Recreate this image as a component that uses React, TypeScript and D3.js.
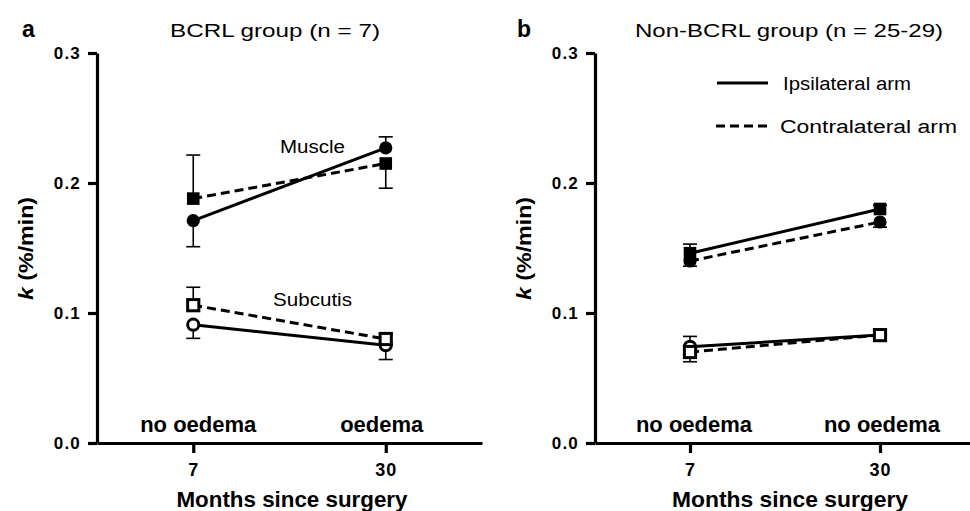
import { useEffect, useRef } from "react";
import * as d3 from "d3";

const months = ["7", "30"];
const yTicks = [0, 0.1, 0.2, 0.3];

// a: BCRL group
const bcrlMuscleIpsi = [0.171, 0.227];
const bcrlMuscleIpsiSem = [0.02, 0.0085];
const bcrlMuscleContra = [0.188, 0.215];
const bcrlMuscleContraSem = [0.0335, 0.019];
const bcrlSubcIpsi = [0.091, 0.0752];
const bcrlSubcIpsiSem = [0.0105, 0.011];
const bcrlSubcContra = [0.106, 0.08];
const bcrlSubcContraSem = [0.0138, 0.004];
const bcrlStatus = ["no oedema", "oedema"];

// b: non-BCRL group
const nonMuscleIpsi = [0.146, 0.18];
const nonMuscleIpsiSem = [0.007, 0.003];
const nonMuscleContra = [0.14, 0.17];
const nonMuscleContraSem = [0.004, 0.004];
const nonSubcIpsi = [0.074, 0.083];
const nonSubcIpsiSem = [0.008, 0.003];
const nonSubcContra = [0.07, 0.083];
const nonSubcContraSem = [0.0075, 0.003];
const nonStatus = ["no oedema", "no oedema"];

const FONT = "'Liberation Sans', Arial, Helvetica, sans-serif";

type Marker = "circle" | "square";
interface Series {
  values: number[];
  sem: number[];
  dashed: boolean;
  marker: Marker;
  filled: boolean;
  up: boolean[];
}

// higher mean of a pair gets the upward bar, the lower one the downward bar
function pair(ipsi: number[], ipsiSem: number[], ipsiMarker: Marker,
              contra: number[], contraSem: number[], contraMarker: Marker, filled: boolean): Series[] {
  const ipsiUp = ipsi.map((v, i) => v >= contra[i]);
  return [
    { values: ipsi, sem: ipsiSem, dashed: false, marker: ipsiMarker, filled, up: ipsiUp },
    { values: contra, sem: contraSem, dashed: true, marker: contraMarker, filled, up: ipsiUp.map((u) => !u) },
  ];
}

const panelA: Series[] = [
  ...pair(bcrlMuscleIpsi, bcrlMuscleIpsiSem, "circle", bcrlMuscleContra, bcrlMuscleContraSem, "square", true),
  ...pair(bcrlSubcIpsi, bcrlSubcIpsiSem, "circle", bcrlSubcContra, bcrlSubcContraSem, "square", false),
];
const panelB: Series[] = [
  ...pair(nonMuscleIpsi, nonMuscleIpsiSem, "square", nonMuscleContra, nonMuscleContraSem, "circle", true),
  ...pair(nonSubcIpsi, nonSubcIpsiSem, "circle", nonSubcContra, nonSubcContraSem, "square", false),
];

interface PanelProps {
  left: number;
  right: number;
  series: Series[];
  status: string[];
  letter: string;
  letterX: number;
  title: string;
  titleX: number;
  titleLen: number;
  xLabelX: number;
  xLabelLen: number;
  statusDx: number[];
}

function Panel({ left, right, series, status, letter, letterX, title, titleX, titleLen, xLabelX, xLabelLen, statusDx }: PanelProps) {
  const xAxisRef = useRef<SVGGElement>(null);
  const yAxisRef = useRef<SVGGElement>(null);

  const x = d3.scalePoint<string>().domain(months).range([left, right]).padding(0.5);
  const y = d3.scaleLinear().domain([0, 0.3]).range([443, 53]);
  const line = d3.line<number>().x((_, i) => x(months[i]) as number).y((d) => y(d));

  useEffect(() => {
    const gy = d3.select(yAxisRef.current!);
    gy.call(
      d3.axisLeft(y).tickValues(yTicks).tickFormat(d3.format(".1f")).tickSize(9).tickSizeOuter(0).tickPadding(7)
    );
    gy.attr("font-family", FONT).attr("font-size", 17).attr("font-weight", "bold");
    gy.selectAll("path, line").attr("stroke", "#000").attr("stroke-width", 3.2);
    gy.selectAll("text").attr("fill", "#000").attr("letter-spacing", 1.2);

    const gx = d3.select(xAxisRef.current!);
    gx.call(d3.axisBottom(x).tickSize(10).tickSizeOuter(0).tickPadding(10));
    gx.attr("font-family", FONT).attr("font-size", 18).attr("font-weight", "bold");
    gx.selectAll("path, line").attr("stroke", "#000").attr("stroke-width", 3.2);
    gx.selectAll("text").attr("fill", "#000").attr("letter-spacing", 1);
  }, [left, right]);

  return (
    <g>
      <text x={letterX} y={37} fontFamily={FONT} fontSize={23} fontWeight="bold">{letter}</text>
      <text x={titleX} y={37} fontFamily={FONT} fontSize={19} textAnchor="middle"
            textLength={titleLen} lengthAdjust="spacingAndGlyphs">{title}</text>

      <g ref={xAxisRef} transform="translate(0,443)" />
      <g ref={yAxisRef} transform={`translate(${left},0)`} />

      <text transform={`translate(${left - 64},248.5) rotate(-90)`} fontFamily={FONT} fontSize={21}
            fontWeight="bold" textAnchor="middle" textLength={103} lengthAdjust="spacingAndGlyphs">
        <tspan fontStyle="italic">k</tspan> (%/min)
      </text>
      <text x={xLabelX} y={507} fontFamily={FONT} fontSize={22} fontWeight="bold" textAnchor="middle"
            textLength={xLabelLen} lengthAdjust="spacingAndGlyphs">Months since surgery</text>

      {status.map((s, i) => (
        <text key={`st-${i}`} x={(x(months[i]) as number) + statusDx[i]} y={432} fontFamily={FONT}
              fontSize={22} fontWeight="bold" textAnchor="middle">{s}</text>
      ))}

      {series.map((s, si) => (
        <path key={`ln-${si}`} d={line(s.values) || ""} fill="none" stroke="#000" strokeWidth={3}
              strokeDasharray={s.dashed ? "9 5" : undefined} />
      ))}

      {series.map((s, si) =>
        s.values.map((v, i) => {
          const cx = x(months[i]) as number;
          const end = y(s.up[i] ? v + s.sem[i] : v - s.sem[i]);
          return (
            <g key={`eb-${si}-${i}`} stroke="#000" strokeWidth={1.6}>
              <line x1={cx} x2={cx} y1={y(v)} y2={end} />
              <line x1={cx - 7} x2={cx + 7} y1={end} y2={end} />
            </g>
          );
        })
      )}

      {series.map((s, si) =>
        s.values.map((v, i) => {
          const cx = x(months[i]) as number;
          const cy = y(v);
          if (s.marker === "circle") {
            return s.filled
              ? <circle key={`mk-${si}-${i}`} cx={cx} cy={cy} r={6.6} fill="#000" />
              : <circle key={`mk-${si}-${i}`} cx={cx} cy={cy} r={5.6} fill="#fff" stroke="#000" strokeWidth={3} />;
          }
          return s.filled
            ? <rect key={`mk-${si}-${i}`} x={cx - 6.3} y={cy - 6.3} width={12.6} height={12.6} fill="#000" />
            : <rect key={`mk-${si}-${i}`} x={cx - 5.6} y={cy - 5.6} width={11.2} height={11.2} fill="#fff"
                    stroke="#000" strokeWidth={3} />;
        })
      )}
    </g>
  );
}

export default function App() {
  return (
    <svg width={970} height={511} style={{ position: "absolute", left: 0, top: 0, background: "#fff" }}>
      <Panel left={97} right={482} series={panelA} status={bcrlStatus} letter="a" letterX={22}
             title="BCRL group (n = 7)" titleX={275} titleLen={210} xLabelX={292} xLabelLen={231}
             statusDx={[5, -4]} />
      <Panel left={595} right={975} series={panelB} status={nonStatus} letter="b" letterX={517}
             title="Non-BCRL group (n = 25-29)" titleX={789} titleLen={308} xLabelX={790} xLabelLen={236}
             statusDx={[4, 2]} />

      <text x={280} y={153} fontFamily={FONT} fontSize={18} textLength={65} lengthAdjust="spacingAndGlyphs">Muscle</text>
      <text x={273} y={306} fontFamily={FONT} fontSize={18} textLength={79} lengthAdjust="spacingAndGlyphs">Subcutis</text>

      <line x1={717} x2={768} y1={83} y2={83} stroke="#000" strokeWidth={3} />
      <text x={783} y={90} fontFamily={FONT} fontSize={18} textLength={128} lengthAdjust="spacingAndGlyphs">Ipsilateral arm</text>
      <line x1={716} x2={768} y1={126} y2={126} stroke="#000" strokeWidth={3} strokeDasharray="9 5" />
      <text x={780} y={133} fontFamily={FONT} fontSize={18} textLength={177} lengthAdjust="spacingAndGlyphs">Contralateral arm</text>
    </svg>
  );
}
